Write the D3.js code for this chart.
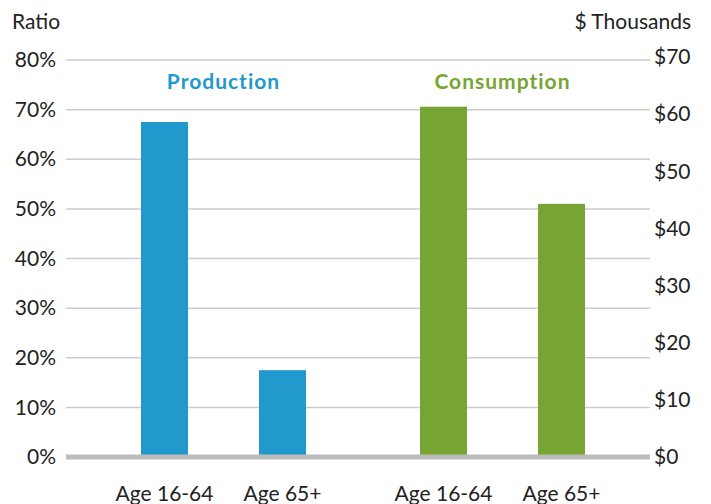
<!DOCTYPE html>
<html>
<head>
<meta charset="utf-8">
<script src="https://cdn.jsdelivr.net/npm/d3@7"></script>
<style>
  body { margin: 0; background: #fff; }
  svg text { font-family: Lato, "Open Sans", sans-serif; fill: #222; }
</style>
</head>
<body>
<svg id="chart" width="711" height="504"></svg>
<script>
const groups = ['Production', 'Consumption']
const ages = ['Age 16-64', 'Age 65+']
const production = [67.5, 17.5]     // ratio, %
const consumption = [61.3, 44.3]    // $ thousands
const leftTicks = [0, 10, 20, 30, 40, 50, 60, 70, 80]
const rightTicks = [0, 10, 20, 30, 40, 50, 60, 70]

const colors = { Production: '#2299cc', Consumption: '#76a533' }

const svg = d3.select('#chart')
const left = 66, right = 650

const yL = d3.scaleLinear().domain([0, 80]).range([457, 60])
const yR = d3.scaleLinear().domain([0, 70]).range([457, 57])

const x0 = d3.scaleBand().domain(groups).range([84, 642])
const x1 = d3.scaleBand().domain(ages).range([57, 222]).paddingInner(71 / 118).paddingOuter(0)

// gridlines
svg.append('g')
  .selectAll('line')
  .data(leftTicks.filter(d => d > 0))
  .enter().append('line')
  .attr('x1', left).attr('x2', right)
  .attr('y1', d => yL(d)).attr('y2', d => yL(d))
  .attr('stroke', '#cccccc')
  .attr('stroke-width', 1.5)

// left axis
const axL = svg.append('g')
  .attr('transform', `translate(${left - 10},0)`)
  .call(d3.axisLeft(yL).tickValues(leftTicks).tickSize(0).tickPadding(0).tickFormat(d => d + '%'))
axL.select('.domain').remove()
axL.selectAll('text').style('font-size', '21px').attr('fill', '#222')

// right axis
const axR = svg.append('g')
  .attr('transform', `translate(${right + 4},0)`)
  .call(d3.axisRight(yR).tickValues(rightTicks).tickSize(0).tickPadding(0).tickFormat(d => '$' + d))
axR.select('.domain').remove()
axR.selectAll('text').style('font-size', '21px').attr('fill', '#222')

// bars
const series = { Production: production, Consumption: consumption }
const yScale = { Production: yL, Consumption: yR }
groups.forEach(g => {
  const gx = x0(g)
  svg.append('g')
    .selectAll('rect')
    .data(series[g])
    .enter().append('rect')
    .attr('x', (d, i) => gx + x1(ages[i]))
    .attr('width', x1.bandwidth())
    .attr('y', d => yScale[g](d))
    .attr('height', d => yScale[g](0) - yScale[g](d))
    .attr('fill', colors[g])

  svg.append('text')
    .attr('x', gx + (x1(ages[0]) + x1(ages[1]) + x1.bandwidth()) / 2)
    .attr('y', 89)
    .attr('text-anchor', 'middle')
    .style('font-size', '21px')
    .style('font-weight', 'bold')
    .style('letter-spacing', '1px')
    .style('fill', colors[g])
    .text(g)

  svg.append('g')
    .selectAll('text')
    .data(ages)
    .enter().append('text')
    .attr('x', d => gx + x1(d) + x1.bandwidth() / 2)
    .attr('y', 501)
    .attr('text-anchor', 'middle')
    .style('font-size', '21px')
    .text(d => d)
})

// baseline
svg.append('line')
  .attr('x1', left).attr('x2', right)
  .attr('y1', yL(0)).attr('y2', yL(0))
  .attr('stroke', '#bbbbbb')
  .attr('stroke-width', 5)

// axis titles
svg.append('text').attr('x', 12).attr('y', 29).style('font-size', '21px').text('Ratio')
svg.append('text').attr('x', 691).attr('y', 29).attr('text-anchor', 'end').style('font-size', '21px').text('$ Thousands')
</script>
</body>
</html>
